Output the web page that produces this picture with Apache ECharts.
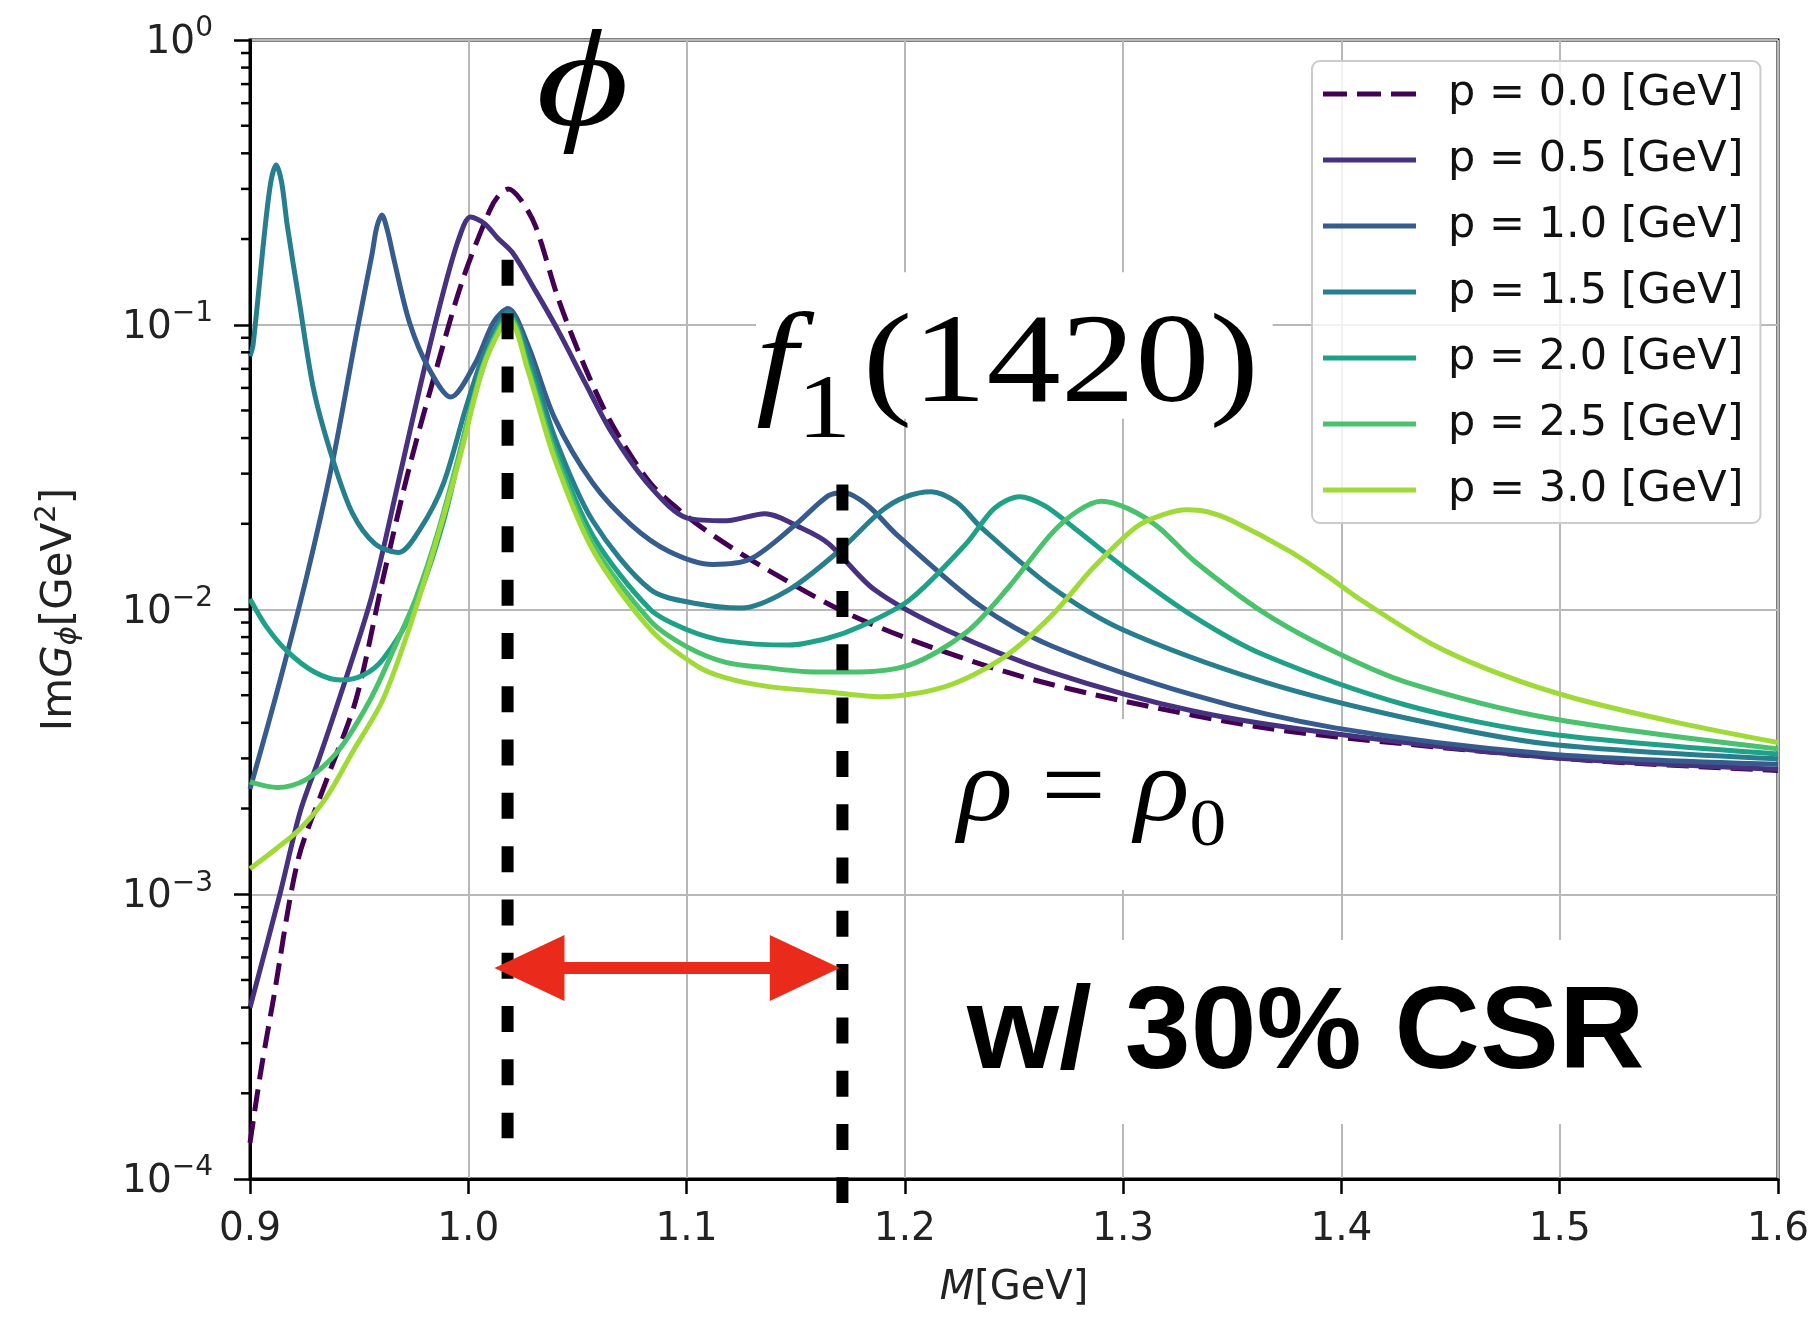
<!DOCTYPE html>
<html>
<head>
<meta charset="utf-8">
<script src="https://cdn.jsdelivr.net/npm/echarts@6/dist/echarts.min.js"></script>
<style>
html,body{margin:0;padding:0;background:#ffffff;}
#chart{width:1812px;height:1318px;}
</style>
</head>
<body>
<div id="chart"></div>
<script>
// ---------------- data ----------------
const seriesNames = ['p = 0.0 [GeV]','p = 0.5 [GeV]','p = 1.0 [GeV]','p = 1.5 [GeV]','p = 2.0 [GeV]','p = 2.5 [GeV]','p = 3.0 [GeV]'];
const seriesColors = ['#440154','#46327e','#365c8d','#277f8e','#1fa187','#4ac16d','#a0da39'];

const xTickLabels = ['0.9','1.0','1.1','1.2','1.3','1.4','1.5','1.6'];
const yTickExponents = ['−4','−3','−2','−1','0'];
const minorTickValues = [2e-4,3e-4,4e-4,5e-4,6e-4,7e-4,8e-4,9e-4,
  2e-3,3e-3,4e-3,5e-3,6e-3,7e-3,8e-3,9e-3,
  2e-2,3e-2,4e-2,5e-2,6e-2,7e-2,8e-2,9e-2,
  0.2,0.3,0.4,0.5,0.6,0.7,0.8,0.9];

// [M (GeV), Im G (GeV^2)]
const p00 = [[0.9,1.34e-4],[0.905,2.4e-4],[0.9107,4.27e-4],[0.922,1.32e-3],[0.935,2.51e-3],[0.9485,4.81e-3],
  [0.961,0.0129],[0.973,0.0316],[0.9855,0.0705],[0.9974,0.1436],[1.0097,0.251],[1.014,0.285],[1.0184,0.300],
  [1.024,0.275],[1.0308,0.222],[1.0413,0.123],[1.0536,0.0705],[1.066,0.0445],[1.0834,0.0278],[1.1007,0.0211],
  [1.118,0.0170],[1.137,0.0138],[1.17,0.0100],[1.202,0.00787],[1.251,0.00589],[1.2996,0.00478],
  [1.3646,0.00384],[1.4295,0.00337],[1.511,0.00296],[1.6,0.00272]];
const p05 = [[0.9,4.0e-4],[0.9137,1.0e-3],[0.923,1.95e-3],[0.932,3.05e-3],[0.9407,4.81e-3],[0.9556,0.0110],[0.9679,0.0279],
  [0.9783,0.0624],[0.9887,0.1315],[0.9958,0.2018],[1.001,0.2388],[1.0075,0.2265],[1.0134,0.2018],[1.0204,0.1786],
  [1.0308,0.1315],[1.041,0.0959],[1.0536,0.0624],[1.0658,0.0417],[1.0834,0.0270],[1.1007,0.0209],[1.1183,0.0205],
  [1.1358,0.0217],[1.1533,0.0192],[1.1652,0.0170],[1.186,0.01175],[1.2185,0.00851],[1.267,0.00603],
  [1.332,0.00440],[1.397,0.00366],[1.4948,0.00303],[1.6,0.00275]];
const p10 = [[0.9,2.34e-3],[0.912,5.01e-3],[0.9258,0.0129],[0.938,0.0335],[0.9485,0.0906],[0.956,0.1786],
  [0.958,0.2188],[0.9604,0.2427],[0.963,0.2138],[0.9661,0.1675],[0.973,0.1023],[0.9818,0.0705],[0.992,0.0557],
  [1.003,0.0728],[1.0116,0.1023],[1.0182,0.114],[1.0273,0.0849],[1.0395,0.0471],[1.057,0.0278],[1.0747,0.0198],
  [1.092,0.0160],[1.112,0.0144],[1.129,0.0150],[1.1497,0.0198],[1.165,0.0251],[1.172,0.0257],[1.183,0.0232],[1.196,0.0184],
  [1.2347,0.01028],[1.267,0.00746],[1.332,0.00501],[1.397,0.00384],[1.4948,0.00311],[1.6,0.00286]];
const p15 = [[0.9,0.0776],[0.9014,0.0849],[0.9066,0.2084],[0.9095,0.316],[0.912,0.364],[0.9145,0.316],
  [0.9171,0.2223],[0.9224,0.1230],[0.9293,0.0585],[0.938,0.0335],[0.9469,0.0218],[0.9573,0.0170],[0.968,0.01585],
  [0.978,0.0192],[0.9887,0.0278],[0.9992,0.0519],[1.0081,0.0822],[1.0184,0.111],[1.0273,0.0798],[1.0395,0.0405],
  [1.057,0.0205],[1.0834,0.01175],[1.105,0.01047],[1.125,0.01012],[1.147,0.01175],[1.17,0.0161],[1.189,0.0221],
  [1.200,0.0248],[1.212,0.0259],[1.224,0.0237],[1.2347,0.0195],[1.267,0.01202],[1.2996,0.00851],[1.3646,0.00557],[1.4295,0.00416],
  [1.4948,0.00337],[1.6,0.00299]];
const p20 = [[0.9,0.01089],[0.9075,0.00871],[0.917,0.00714],[0.9295,0.00603],[0.9416,0.00565],[0.952,0.00589],
  [0.961,0.00670],[0.9749,0.01005],[0.9887,0.0205],[0.9992,0.0445],[1.0079,0.0752],[1.0151,0.1023],[1.0187,0.1084],
  [1.0273,0.0741],[1.0395,0.0372],[1.057,0.0182],[1.0834,0.0100],[1.1,0.00851],[1.118,0.00776],[1.147,0.00750],
  [1.165,0.00794],[1.1795,0.00871],[1.202,0.01079],[1.228,0.0170],[1.241,0.02265],[1.2525,0.0249],[1.264,0.02317],[1.277,0.0195],[1.2996,0.01422],
  [1.332,0.00948],[1.3646,0.00692],[1.4295,0.00462],[1.4948,0.00366],[1.6,0.00311]];
const p25 = [[0.9,2.48e-3],[0.9125,2.37e-3],[0.925,2.51e-3],[0.94,3.16e-3],[0.955,4.81e-3],[0.967,7.59e-3],
  [0.976,0.01096],[0.986,0.0186],[0.996,0.0355],[1.0064,0.0708],[1.0151,0.100],[1.019,0.106],[1.0273,0.0708],
  [1.0395,0.0355],[1.057,0.0170],[1.0834,0.00912],[1.1,0.00741],[1.118,0.00652],[1.137,0.00624],[1.155,0.00605],
  [1.175,0.00603],[1.202,0.00638],[1.228,0.00830],[1.2477,0.01202],[1.267,0.0184],[1.279,0.02213],[1.29,0.0240],[1.302,0.02265],[1.316,0.0195],
  [1.332,0.01493],[1.3646,0.00973],[1.397,0.00710],[1.4295,0.00556],[1.4948,0.00416],[1.6,0.00324]];
const p30 = [[0.9,1.23e-3],[0.912,1.445e-3],[0.923,1.70e-3],[0.935,2.19e-3],[0.947,3.16e-3],[0.9608,4.81e-3],
  [0.9732,8.71e-3],[0.985,0.0170],[0.996,0.0339],[1.0064,0.0692],[1.0151,0.0977],[1.019,0.1035],[1.0273,0.0692],
  [1.0395,0.0339],[1.057,0.0162],[1.0834,0.00851],[1.105,0.00631],[1.118,0.00575],[1.137,0.00537],[1.165,0.00513],
  [1.189,0.00494],[1.2185,0.00536],[1.2443,0.00671],[1.267,0.00948],[1.2866,0.01409],[1.306,0.0195],[1.318,0.02148],[1.329,0.0224],
  [1.339,0.02200],[1.35,0.0205],[1.3764,0.0160],[1.393,0.0132],[1.409,0.0108],[1.4414,0.00757],[1.4738,0.00589],
  [1.5063,0.00489],[1.555,0.00399],[1.6,0.00341]];
const curves = [p00,p05,p10,p15,p20,p25,p30];

// annotation marks (data coordinates)
const phiLine = [[1.018,0.169],[1.018,1.39e-4]];
const f1Line = [[1.1714,0.0275],[1.1714,8.24e-5]];
const arrowSpan = [[1.012,1.1702,5.51e-4]];           // [M from, M to, y]
const whiteBoxes = [[1.2027,1.5905,6.91e-4,1.56e-4],[1.2109,1.3938,4.125e-3,1.035e-3],[1.1318,1.3685,0.153,0.0468]]; // [M1,M2,y1,y2]
const labelAnchors = [[1.0523,0.672],[1.1318,0.0705],[1.2242,0.00228],[1.2285,3.178e-4]];
const labelTexts = ['{i|ϕ}','{i|f}{s|1}{n|(1420)}','{i|ρ}{n| = }{i|ρ}{s|0}','{b|w/ 30% CSR}'];

// ---------------- chart ----------------
const serif = '"Liberation Serif","DejaVu Serif",serif';
const sans = '"DejaVu Sans",sans-serif';
const labelRich = [
  {i:{fontSize:138,fontFamily:serif,fontStyle:'italic',fill:'#000',lineHeight:160}},
  {i:{fontSize:127,fontFamily:serif,fontStyle:'italic',fill:'#000',lineHeight:150},
   s:{fontSize:92,fontFamily:serif,fill:'#000',lineHeight:150,padding:[90,10,0,0]},
   n:{fontSize:127,fontFamily:serif,fill:'#000',lineHeight:150}},
  {i:{fontSize:106,fontFamily:serif,fontStyle:'italic',fill:'#000',lineHeight:130},
   n:{fontSize:106,fontFamily:serif,fill:'#000',lineHeight:130},
   s:{fontSize:68,fontFamily:serif,fill:'#000',lineHeight:130,padding:[70,0,0,0]}},
  {b:{fontSize:116,fontFamily:'"Liberation Sans",Arial,sans-serif',fontWeight:'bold',fill:'#000',lineHeight:130}}
];
const labelAlign = ['center','left','left','left'];
const labelScaleX = [1.3,1.17,1.08,1.02];

const chart = echarts.init(document.getElementById('chart'), null, {renderer:'canvas'});

const solidIcon = 'path://M0,0H93V5H0Z';
const dashedIcon = 'path://M0,0H24V5H0Z M34,0H58V5H34Z M68,0H93V5H68Z';

const lineSeries = curves.map((d,i)=>({
  name: seriesNames[i], type:'line', data:d, symbol:'none', showSymbol:false,
  smooth:0.3, clip:true, z:3,
  lineStyle:{color:seriesColors[i], width:5, type: i===0 ? [22,10] : 'solid', cap:'butt', join:'round'},
  itemStyle:{color:seriesColors[i]},
  emphasis:{disabled:true}
}));

const option = {
  animation:false,
  backgroundColor:'#ffffff',
  grid:{left:250, top:40, width:1531, height:1139, show:true, borderColor:'#000', borderWidth:3, backgroundColor:'transparent'},
  xAxis:{
    type:'value', min:0.9, max:1.6, interval:0.1,
    name:'{i|M}{n|[GeV]}', nameLocation:'middle', nameGap:90,
    nameTextStyle:{rich:{i:{fontSize:40,fontFamily:sans,fontStyle:'italic',color:'#222'},n:{fontSize:40,fontFamily:sans,color:'#222'}}},
    axisLine:{show:true, lineStyle:{color:'#000', width:3}},
    axisTick:{show:true, inside:false, length:15, lineStyle:{color:'#000', width:2.5}},
    axisLabel:{margin:31, fontSize:39, fontFamily:sans, color:'#222',
      formatter:(v)=>{const k=Math.round((v-0.9)*10); return xTickLabels[k];}},
    splitLine:{show:true, lineStyle:{color:'#b8b8b8', width:2}}
  },
  yAxis:{
    type:'log', logBase:10, min:1e-4, max:1,
    name:'{n|Im}{i|G}{s|ϕ}{n|[GeV}{p|2}{n|]}', nameLocation:'middle', nameRotate:90, nameGap:164,
    nameTextStyle:{rich:{
      n:{fontSize:42,fontFamily:sans,color:'#222',lineHeight:52},
      i:{fontSize:42,fontFamily:sans,fontStyle:'italic',color:'#222',lineHeight:52},
      s:{fontSize:29,fontFamily:sans,fontStyle:'italic',color:'#222',lineHeight:52,padding:[16,0,0,0]},
      p:{fontSize:29,fontFamily:sans,color:'#222',lineHeight:52,padding:[0,0,25,0]}}},
    axisLine:{show:true, lineStyle:{color:'#000', width:3}},
    axisTick:{show:true, inside:false, length:16, lineStyle:{color:'#000', width:2.5}},
    axisLabel:{margin:37,
      formatter:(v)=>{const e=Math.round(Math.log10(v)); return '{b|10}{s|'+yTickExponents[e+4]+'}';},
      rich:{b:{fontSize:39,fontFamily:sans,color:'#222',lineHeight:46,padding:[6,0,0,0]},
            s:{fontSize:28,fontFamily:sans,color:'#222',lineHeight:46,padding:[0,0,22,0]}}},
    splitLine:{show:true, lineStyle:{color:'#b8b8b8', width:2}}
  },
  legend:{
    data:seriesNames.map((n,i)=>({name:n, icon: i===0 ? dashedIcon : solidIcon})),
    orient:'vertical', left:1312, top:61,
    padding:[10,17,10,11], itemWidth:93, itemHeight:5, itemGap:20, symbolKeepAspect:false,
    backgroundColor:'rgba(255,255,255,0.8)', borderColor:'#cccccc', borderWidth:2, borderRadius:8,
    selectedMode:false,
    textStyle:{fontSize:43, fontFamily:sans, color:'#111', lineHeight:46, padding:[0,0,0,27]}
  },
  series:[
    // white boxes behind annotation text (hide grid lines)
    {type:'custom', silent:true, z:1, data:whiteBoxes,
     encode:{x:[0,1], y:[2,3]},
     renderItem:(params, api)=>{
       const a = api.coord([api.value(0), api.value(2)]);
       const b = api.coord([api.value(1), api.value(3)]);
       return {type:'rect', shape:{x:a[0], y:a[1], width:b[0]-a[0], height:b[1]-a[1]}, style:{fill:'#ffffff'}};
     }},
    ...lineSeries,
    // minor log ticks on the left axis
    {type:'custom', silent:true, z:5, clip:false, data:minorTickValues.map(v=>[0.9,v]),
     renderItem:(params, api)=>{
       const p = api.coord([api.value(0), api.value(1)]);
       return {type:'line', shape:{x1:p[0]-9, y1:p[1], x2:p[0], y2:p[1]}, style:{stroke:'#000', lineWidth:2.5}};
     }},
    // dashed black marker lines
    {type:'line', data:phiLine, symbol:'none', clip:false, silent:true, z:6,
     lineStyle:{color:'#000', width:12, type:[26,27.3], cap:'butt'}},
    {type:'line', data:f1Line, symbol:'none', clip:false, silent:true, z:6,
     lineStyle:{color:'#000', width:12, type:[26,27.3], cap:'butt'}},
    // red double arrow
    {type:'custom', silent:true, z:7, clip:false, data:arrowSpan, encode:{x:[0,1], y:2},
     renderItem:(params, api)=>{
       const a = api.coord([api.value(0), api.value(2)]);
       const b = api.coord([api.value(1), api.value(2)]);
       const H=70, W=33, T=6, y=a[1];
       const pts=[[a[0],y],[a[0]+H,y-W],[a[0]+H,y-T],[b[0]-H,y-T],[b[0]-H,y-W],[b[0],y],
                  [b[0]-H,y+W],[b[0]-H,y+T],[a[0]+H,y+T],[a[0]+H,y+W]];
       return {type:'polygon', shape:{points:pts}, style:{fill:'#ea2a1b'}};
     }},
    // annotation texts
    {type:'custom', silent:true, z:8, clip:false, data:labelAnchors,
     renderItem:(params, api)=>{
       const i = params.dataIndex;
       const p = api.coord([api.value(0), api.value(1)]);
       return {type:'text', x:p[0], y:p[1], scaleX:labelScaleX[i], scaleY:1, originX:0, originY:0,
         style:{text:labelTexts[i], rich:labelRich[i], align:labelAlign[i], verticalAlign:'middle', fill:'#000'}};
     }}
  ]
};
chart.setOption(option);
</script>
</body>
</html>
